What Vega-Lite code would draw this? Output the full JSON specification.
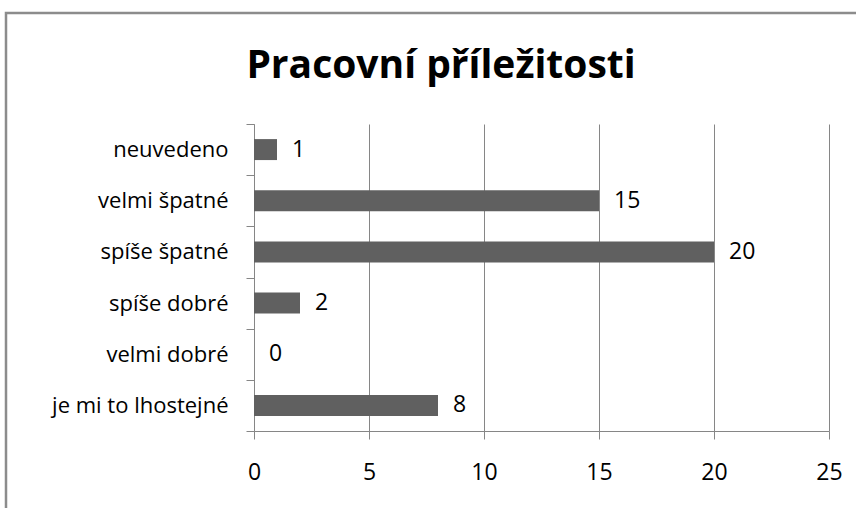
{
  "$schema": "https://vega.github.io/schema/vega-lite/v6.json",
  "width": 860,
  "height": 529,
  "autosize": "none",
  "padding": {"left": 6, "top": 13, "right": -10, "bottom": -34},
  "background": "white",
  "config": {"view": {"stroke": "#8c8c8c", "strokeWidth": 2.5}, "font": "Open Sans"},
  "title": {"text": "Pracovní příležitosti", "font": "Open Sans", "fontSize": 39, "fontWeight": "bold", "color": "black", "anchor": "middle", "frame": "group", "orient": "top", "offset": -115, "dx": 5, "baseline": "alphabetic"},
  "data": {"values": [
    {"kategorie": "neuvedeno", "pocet": 1},
    {"kategorie": "velmi špatné", "pocet": 15},
    {"kategorie": "spíše špatné", "pocet": 20},
    {"kategorie": "spíše dobré", "pocet": 2},
    {"kategorie": "velmi dobré", "pocet": 0},
    {"kategorie": "je mi to lhostejné", "pocet": 8}
  ]},
  "encoding": {
    "y": {"field": "kategorie", "type": "nominal", "sort": null,
      "scale": {"range": [111, 418], "paddingInner": 0, "paddingOuter": 0},
      "axis": {"offset": -248, "tickBand": "extent", "tickSize": 8, "labelPadding": 18, "labelFontSize": 22, "labelFont": "Open Sans", "labelColor": "black", "domainColor": "#868686", "tickColor": "#868686", "title": null, "grid": false, "labelFontWeight": "normal"}},
    "x": {"field": "pocet", "type": "quantitative",
      "scale": {"domain": [0, 25], "range": [248, 823], "nice": false, "zero": true},
      "axis": {"offset": -111, "values": [0, 5, 10, 15, 20, 25], "grid": true, "gridColor": "#868686", "gridWidth": 1, "gridOpacity": 1, "domainColor": "#868686", "domainWidth": 1, "tickColor": "#868686", "tickSize": 8, "labelFont": "Open Sans", "labelFontSize": 23, "labelColor": "black", "labelPadding": 22, "title": null, "labelFlush": false, "labelOverlap": false}}
  },
  "layer": [
    {"mark": {"type": "bar", "color": "#606060", "height": {"band": 0.41}}},
    {"mark": {"type": "text", "align": "left", "baseline": "middle", "dx": 15, "font": "Open Sans", "fontSize": 23, "color": "black"},
     "encoding": {"text": {"field": "pocet", "type": "quantitative"}}}
  ]
}
